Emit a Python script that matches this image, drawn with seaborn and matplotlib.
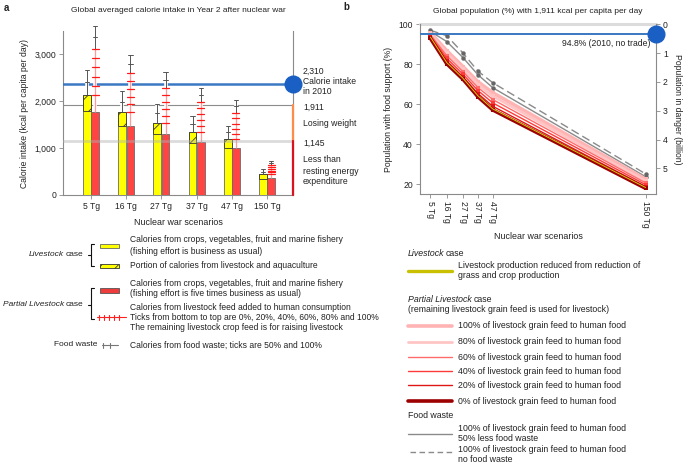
import numpy as np
import pandas as pd
import matplotlib
matplotlib.use('Agg')
import matplotlib.pyplot as plt
import seaborn as sns
from matplotlib import patheffects as pe
from matplotlib.lines import Line2D
from matplotlib.patches import Rectangle

# ---------------- data ----------------
scenarios = ['5 Tg', '16 Tg', '27 Tg', '37 Tg', '47 Tg', '150 Tg']
soot_tg = [5, 16, 27, 37, 47, 150]

# panel a: kcal per capita per day
livestock_crop = [1790, 1465, 1298, 1120, 1000, 345]      # yellow, crops/fish only
livestock_total = [2130, 1766, 1545, 1347, 1191, 450]     # yellow top incl. livestock
livestock_waste = [2675, 2219, 1943, 1694, 1481, 553]     # + food waste (100%)
partial_crop = [1780, 1468, 1298, 1128, 1000, 362]        # red bar
partial_feed100 = [3120, 2596, 2277, 1979, 1745, 630]     # + 100% livestock feed
partial_waste = [3610, 2979, 2617, 2283, 2034, 736]       # + food waste (100%)
intake_2010 = 2360
weight_loss_level = 1911
resting_level = 1145

# panel b: % of population with 1,911 kcal
pop_no_waste = [97.0, 94.3, 85.6, 76.6, 70.8, 25.2]
pop_half_waste = [96.4, 91.4, 83.3, 74.8, 68.3, 23.8]
feed_levels = ['100%', '80%', '60%', '40%', '20%', '0%']
pop_feed = {
    '100%': [95.8, 86.8, 78.8, 71.3, 65.8, 22.5],
    '80%': [95.3, 85.6, 77.6, 69.9, 64.1, 21.6],
    '60%': [94.8, 84.3, 76.3, 68.4, 62.4, 20.7],
    '40%': [94.2, 83.0, 75.0, 66.9, 60.7, 19.8],
    '20%': [93.6, 81.7, 73.7, 65.4, 59.0, 18.9],
    '0%': [93.0, 80.3, 72.5, 63.8, 57.2, 18.0],
}
pop_livestock = [93.6, 80.9, 73.0, 64.3, 57.7, 18.4]
pop_2010 = 95.4
world_pop_billion = 6.94

# ---------------- style ----------------
sns.set_theme(style='white')
plt.rcParams['font.family'] = ['Liberation Sans', 'DejaVu Sans']
plt.rcParams['hatch.linewidth'] = 0.6
TXT = '#222222'
AX = '#8a8a8a'
FS = 5.6
LFS = 6.15
LB = 6.3

W, H = 685, 470
fig = plt.figure(figsize=(W / 100, H / 100), dpi=100)


def fx(x):
    return x / W


def fy(y):
    return 1 - y / H


def ftext(x, y, s, **kw):
    kw.setdefault('fontsize', LFS)
    kw.setdefault('color', TXT)
    kw.setdefault('va', 'center')
    return fig.text(fx(x), fy(y), s, **kw)


# ================= panel a =================
axa = fig.add_axes([fx(63), fy(195), (293 - 63) / W, (195 - 31) / H])
df_a = pd.DataFrame({
    'scenario': scenarios * 2,
    'kcal': livestock_total + partial_crop,
    'case': ['Livestock'] * 6 + ['Partial'] * 6,
})
sns.barplot(data=df_a, x='scenario', y='kcal', hue='case',
            palette={'Livestock': '#ffff00', 'Partial': '#ff4444'},
            width=0.47, gap=0.06, edgecolor='#6a6a6a', linewidth=0.6,
            legend=False, ax=axa, zorder=3, saturation=1)

bars = list(axa.patches)
ybars = bars[:6]
rbars = bars[6:12]
bw = ybars[0].get_width()
xy = [b.get_x() + bw / 2 for b in ybars]
xr = [b.get_x() + b.get_width() / 2 for b in rbars]

# livestock portion (hatched)
axa.bar(xy, np.array(livestock_total) - np.array(livestock_crop), bottom=livestock_crop,
        width=bw, facecolor='#ffff00', edgecolor='#333333', hatch='//', linewidth=0.6, zorder=4)

stroke = [pe.withStroke(linewidth=2.6, foreground='white')]
cap = 0.06
rtick = 0.1
for i in range(6):
    # food waste on livestock case
    axa.plot([xy[i], xy[i]], [livestock_total[i], livestock_waste[i]], color='#555555', lw=0.7,
             zorder=6, clip_on=False, path_effects=stroke, solid_capstyle='butt')
    mid = (livestock_total[i] + livestock_waste[i]) / 2
    for v in (mid, livestock_waste[i]):
        axa.plot([xy[i] - cap, xy[i] + cap], [v, v], color='#555555', lw=0.7, zorder=7, clip_on=False)
    # livestock feed on partial case
    axa.plot([xr[i], xr[i]], [partial_crop[i], partial_feed100[i]], color='#ff9a9a', lw=0.9,
             zorder=6, clip_on=False, path_effects=stroke, solid_capstyle='butt')
    for k in range(6):
        v = livestock_total[i] + k / 5 * (partial_feed100[i] - livestock_total[i])
        axa.plot([xr[i] - rtick, xr[i] + rtick], [v, v], color='#ff1a1a', lw=0.9, zorder=7, clip_on=False)
    # food waste on partial case
    axa.plot([xr[i], xr[i]], [partial_feed100[i], partial_waste[i]], color='#555555', lw=0.7,
             zorder=6, clip_on=False, path_effects=stroke, solid_capstyle='butt')
    mid = (partial_feed100[i] + partial_waste[i]) / 2
    for v in (mid, partial_waste[i]):
        axa.plot([xr[i] - cap, xr[i] + cap], [v, v], color='#555555', lw=0.7, zorder=7, clip_on=False)

xl = (-0.8, 5.74)
axa.set_xlim(*xl)
axa.set_ylim(0, 3500)
axa.axhline(intake_2010, color='#3a78c2', lw=1.8, zorder=5)
axa.axhline(weight_loss_level, color='#8c8c8c', lw=0.8, zorder=1)
axa.axhline(resting_level, color='#b0b0b0', lw=2.0, alpha=0.45, zorder=8)
axa.plot([xl[1], xl[1]], [resting_level, weight_loss_level], color='#ff8c4a', lw=1.6, zorder=9, clip_on=False)
axa.plot([xl[1], xl[1]], [0, resting_level], color='#d9141c', lw=1.6, zorder=9, clip_on=False)
axa.plot([xl[1]], [intake_2010], 'o', color='#1a5fc4', ms=12, zorder=10, clip_on=False)

axa.spines['top'].set_visible(False)
for s in ['left', 'bottom', 'right']:
    axa.spines[s].set_color(AX)
    axa.spines[s].set_linewidth(0.8)
axa.set_yticks([0, 1000, 2000, 3000])
axa.set_yticklabels(['0', '1,000', '2,000', '3,000'])
axa.tick_params(axis='both', length=3, width=0.6, color=AX, labelsize=FS + 0.6, labelcolor=TXT, pad=2,
                left=True, bottom=True)
axa.set_xlabel('Nuclear war scenarios', fontsize=FS + 0.8, color=TXT, labelpad=5)
axa.set_ylabel('Calorie intake (kcal per capita per day)', fontsize=FS + 0.6, color=TXT, labelpad=4)
axa.set_title('Global averaged calorie intake in Year 2 after nuclear war', fontsize=FS + 0.4, color=TXT, pad=14)

ftext(303, 71, '2,310', fontsize=FS + 0.6)
ftext(303, 82, 'Calorie intake', fontsize=FS + 0.6)
ftext(303, 92, 'in 2010', fontsize=FS + 0.6)
ftext(303, 107, '1,911', fontsize=FS + 0.6)
ftext(303, 123, 'Losing weight', fontsize=FS + 0.6)
ftext(303, 143, '1,145', fontsize=FS + 0.6)
ftext(303, 160, 'Less than', fontsize=FS + 0.6)
ftext(303, 171, 'resting energy', fontsize=FS + 0.6)
ftext(303, 182, 'expenditure', fontsize=FS + 0.6)

ftext(4, 8, 'a', fontsize=7, fontweight='bold')
ftext(343, 7, 'b', fontsize=7, fontweight='bold')

# ================= panel b =================
axb = fig.add_axes([fx(420), fy(194.3), (656 - 420) / W, (194.3 - 24.3) / H])
frames = []
for name, vals in [('no waste', pop_no_waste), ('half waste', pop_half_waste)]:
    frames.append(pd.DataFrame({'tg': soot_tg, 'pct': vals, 'series': name}))
df_g = pd.concat(frames)
sns.lineplot(data=df_g[df_g.series == 'no waste'], x='tg', y='pct', color='#8a8a8a', lw=1.0,
             marker='o', markersize=3.2, markeredgewidth=0, markerfacecolor='#666666',
             ax=axb, zorder=3, legend=False)
axb.lines[-1].set_linestyle((0, (6, 3)))
sns.lineplot(data=df_g[df_g.series == 'half waste'], x='tg', y='pct', color='#8a8a8a', lw=1.0,
             marker='o', markersize=3.2, markeredgewidth=0, markerfacecolor='#666666',
             ax=axb, zorder=3, legend=False)

feed_style = {
    '100%': ('#ffb3b3', 2.6),
    '80%': ('#ffc4c4', 2.0),
    '60%': ('#ff6b6b', 1.0),
    '40%': ('#ff3a3a', 1.0),
    '20%': ('#e01616', 1.0),
    '0%': ('#9c0000', 2.6),
}
for z, lev in enumerate(feed_levels):
    c, lw = feed_style[lev]
    d = pd.DataFrame({'tg': soot_tg, 'pct': pop_feed[lev]})
    sns.lineplot(data=d, x='tg', y='pct', color=c, lw=lw, marker='s', markersize=2.6,
                 markeredgewidth=0, ax=axb, zorder=4 + z, legend=False)
d = pd.DataFrame({'tg': soot_tg, 'pct': pop_livestock})
sns.lineplot(data=d, x='tg', y='pct', color='#d8cc10', lw=0.7, ax=axb, zorder=11, legend=False)

axb.set_xlim(-2, 157)
axb.set_ylim(15, 100)
axb.axhline(100, color='#dcdcdc', lw=2.2, zorder=1, clip_on=False)
axb.axhline(pop_2010, color='#3a78c2', lw=1.4, zorder=12)
axb.plot([157], [pop_2010], 'o', color='#1a5fc4', ms=12, zorder=13, clip_on=False)
axb.text(0.975, 0.89, '94.8% (2010, no trade)', transform=axb.transAxes, ha='right', va='center',
         fontsize=FS + 0.6, color=TXT)
axb.spines['top'].set_visible(False)
for s in ['left', 'bottom', 'right']:
    axb.spines[s].set_color(AX)
    axb.spines[s].set_linewidth(0.8)
axb.set_xticks(soot_tg)
axb.set_xticklabels(scenarios, rotation=-90)
axb.set_yticks([20, 40, 60, 80, 100])
axb.tick_params(axis='both', length=3, width=0.6, color=AX, labelsize=FS + 0.6, labelcolor=TXT, pad=2,
                left=True, bottom=True)
axb.set_xlabel('Nuclear war scenarios', fontsize=FS + 0.8, color=TXT, labelpad=3)
axb.set_ylabel('Population with food support (%)', fontsize=FS + 0.6, color=TXT, labelpad=4)
axb.set_title('Global population (%) with 1,911 kcal per capita per day', fontsize=FS + 0.4, color=TXT, pad=8)

axr = axb.twinx()
axr.set_ylim((100 - 15) / 100 * world_pop_billion, 0)
axr.set_yticks([0, 1, 2, 3, 4, 5])
axr.tick_params(axis='y', length=3, width=0.6, color=AX, labelsize=FS + 0.6, labelcolor=TXT, pad=2, right=True)
for s in axr.spines.values():
    s.set_visible(False)
axr.grid(False)
axr.set_ylabel('Population in danger (billion)', fontsize=FS + 0.6, color=TXT, rotation=270, labelpad=10)

# ================= legends =================
renderer = fig.canvas.get_renderer()


def italic_then_normal(x, y, it, nm, right=None, fs=6.0):
    if right is None:
        t = ftext(x, y, it, style='italic', fontsize=fs)
        bb = t.get_window_extent(renderer)
        ftext(bb.x1 / fig.dpi * 100 + 1.5, y, nm, fontsize=fs)
    else:
        t = ftext(right, y, nm, ha='right', fontsize=fs)
        bb = t.get_window_extent(renderer)
        ftext(bb.x0 / fig.dpi * 100 - 1.5, y, it, style='italic', ha='right', fontsize=fs)


def bracket(x, y0, y1, ym):
    fig.add_artist(Line2D([fx(x + 3), fx(x), fx(x), fx(x + 3)], [fy(y0), fy(y0), fy(y1), fy(y1)],
                          color='#111111', lw=0.8))
    fig.add_artist(Line2D([fx(x - 3), fx(x)], [fy(ym), fy(ym)], color='#111111', lw=0.8))


# left legend
italic_then_normal(0, 255, 'Livestock', 'case', right=83)
bracket(91, 244, 266, 255)
fig.add_artist(Rectangle((fx(100), fy(248)), 19 / W, 4.5 / H, facecolor='#ffff00', edgecolor='#666666', lw=0.6))
fig.add_artist(Rectangle((fx(100), fy(268)), 19 / W, 4.5 / H, facecolor='#ffff00', edgecolor='#333333',
                         lw=0.6, hatch='//'))
ftext(130, 240, 'Calories from crops, vegetables, fruit and marine fishery')
ftext(130, 251, '(fishing effort is business as usual)')
ftext(130, 266, 'Portion of calories from livestock and aquaculture')

italic_then_normal(0, 304, 'Partial Livestock', 'case', right=83)
bracket(91, 288, 319, 305)
fig.add_artist(Rectangle((fx(100), fy(292.5)), 19 / W, 4.5 / H, facecolor='#ee3b3b', edgecolor='#555555', lw=0.6))
fig.add_artist(Line2D([fx(97), fx(126)], [fy(317), fy(317)], color='#ff2020', lw=0.8))
for tx in [99, 104, 109, 114, 119]:
    fig.add_artist(Line2D([fx(tx), fx(tx)], [fy(314.5), fy(319.5)], color='#ff2020', lw=0.8))
ftext(130, 283, 'Calories from crops, vegetables, fruit and marine fishery')
ftext(130, 293, '(fishing effort is five times business as usual)')
ftext(130, 307, 'Calories from livestock feed added to human consumption')
ftext(130, 318, 'Ticks from bottom to top are 0%, 20%, 40%, 60%, 80% and 100%')
ftext(130, 328, 'The remaining livestock crop feed is for raising livestock')

ftext(97, 345, 'Food waste', ha='right', fontsize=6.0)
fig.add_artist(Line2D([fx(102), fx(118)], [fy(345), fy(345)], color='#777777', lw=0.8))
for tx in [103, 110]:
    fig.add_artist(Line2D([fx(tx), fx(tx)], [fy(342.5), fy(347.5)], color='#777777', lw=0.8))
ftext(130, 345, 'Calories from food waste; ticks are 50% and 100%')

# right legend
italic_then_normal(408, 253, 'Livestock', 'case', fs=LB)
fig.add_artist(Line2D([fx(408), fx(452)], [fy(271), fy(271)], color='#c8c000', lw=2.4))
ftext(458, 266, 'Livestock production reduced from reduction of', fontsize=LB)
ftext(458, 276, 'grass and crop production', fontsize=LB)
italic_then_normal(408, 299, 'Partial Livestock', 'case', fs=LB)
ftext(408, 310, '(remaining livestock grain feed is used for livestock)', fontsize=LB)
for lev, yy in zip(feed_levels, [326, 342, 357, 371, 385, 401]):
    c, lw = feed_style[lev]
    fig.add_artist(Line2D([fx(408), fx(452)], [fy(yy), fy(yy)], color=c, lw=lw))
    ftext(458, yy, f'{lev} of livestock grain feed to human food', fontsize=LB)
ftext(408, 416, 'Food waste', fontsize=LB)
fig.add_artist(Line2D([fx(408), fx(452)], [fy(434), fy(434)], color='#8a8a8a', lw=1.0))
ftext(458, 428.5, '100% of livestock grain feed to human food', fontsize=LB)
ftext(458, 438.5, '50% less food waste', fontsize=LB)
fig.add_artist(Line2D([fx(410), fx(452)], [fy(452), fy(452)], color='#8a8a8a', lw=1.0, ls=(0, (4, 2.5))))
ftext(458, 449.5, '100% of livestock grain feed to human food', fontsize=LB)
ftext(458, 459.5, 'no food waste', fontsize=LB)

fig.savefig('out.png', dpi=100)
